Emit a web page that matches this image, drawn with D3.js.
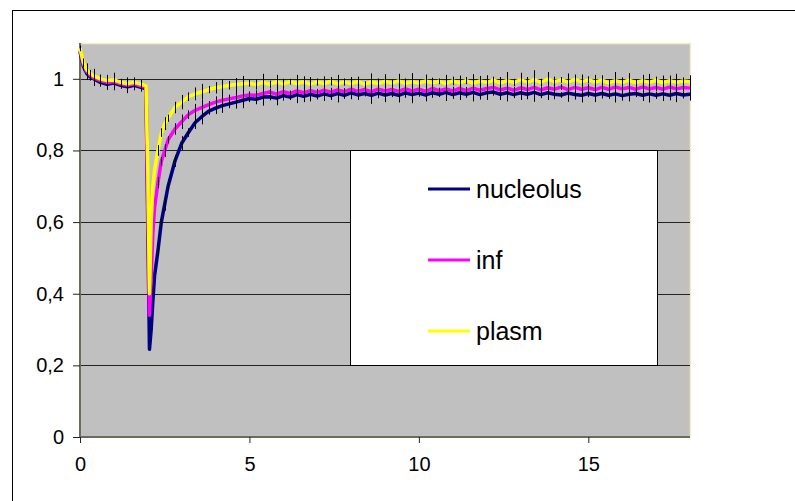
<!DOCTYPE html>
<html><head><meta charset="utf-8">
<script src="https://cdn.jsdelivr.net/npm/d3@7"></script>
<style>body{margin:0;background:#fff}svg{display:block;font-family:"Liberation Sans",Arial,sans-serif}</style>
</head><body><svg id="c" width="795" height="501"></svg>
<script>
const times = [0,0.1,0.2,0.3,0.4,0.6,0.8,1.0,1.2,1.4,1.6,1.8,1.95,2.0,2.05,2.1,2.15,2.2,2.3,2.4,2.5,2.6,
  2.8,3.0,3.2,3.4,3.6,3.8,4.0,4.2,4.4,4.6,4.8,5.0,
  5.2,5.4,5.6,5.8,6.0,6.2,6.4,6.6,6.8,7.0,
  7.2,7.4,7.6,7.8,8.0,8.2,8.4,8.6,8.8,9.0,
  9.2,9.4,9.6,9.8,10.0,10.2,10.4,10.6,10.8,11.0,
  11.2,11.4,11.6,11.8,12.0,12.2,12.4,12.6,12.8,13.0,
  13.2,13.4,13.6,13.8,14.0,14.2,14.4,14.6,14.8,15.0,
  15.2,15.4,15.6,15.8,16.0,16.2,16.4,16.6,16.8,17.0,
  17.2,17.4,17.6,17.8,18.0];
const nucleolus = [1.075,1.035,1.015,1.005,1.0,0.99,0.985,0.988,0.982,0.978,0.982,0.976,0.972,0.60,0.245,0.30,0.38,0.45,0.52,0.60,0.65,0.70,
  0.77,0.82,0.85,0.878,0.895,0.91,0.918,0.925,0.93,0.935,0.94,0.945,
  0.943,0.949,0.95,0.946,0.953,0.949,0.956,0.951,0.957,0.952,
  0.958,0.953,0.959,0.954,0.961,0.955,0.959,0.954,0.96,0.955,
  0.959,0.954,0.961,0.956,0.96,0.955,0.961,0.957,0.962,0.956,
  0.961,0.957,0.962,0.956,0.961,0.963,0.957,0.961,0.956,0.961,
  0.957,0.962,0.956,0.961,0.957,0.955,0.96,0.956,0.954,0.959,
  0.955,0.959,0.954,0.958,0.953,0.957,0.959,0.954,0.958,0.954,
  0.958,0.954,0.959,0.955,0.957];
const inf = [1.08,1.04,1.02,1.01,1.003,0.995,0.99,0.992,0.986,0.982,0.986,0.98,0.976,0.65,0.34,0.45,0.57,0.64,0.71,0.77,0.80,0.83,
  0.86,0.88,0.90,0.912,0.92,0.928,0.935,0.94,0.944,0.948,0.952,0.955,
  0.954,0.959,0.963,0.957,0.964,0.959,0.966,0.961,0.967,0.962,
  0.968,0.963,0.969,0.964,0.971,0.965,0.97,0.964,0.971,0.966,
  0.97,0.965,0.972,0.966,0.971,0.965,0.973,0.967,0.972,0.966,
  0.973,0.967,0.974,0.968,0.973,0.976,0.969,0.974,0.968,0.975,
  0.97,0.976,0.969,0.975,0.971,0.977,0.97,0.976,0.971,0.975,
  0.97,0.976,0.971,0.977,0.972,0.976,0.971,0.977,0.972,0.976,
  0.971,0.977,0.972,0.976,0.974];
const plasm = [1.085,1.045,1.025,1.015,1.008,1.0,0.995,0.997,0.99,0.986,0.99,0.985,0.98,0.75,0.40,0.60,0.70,0.745,0.80,0.85,0.875,0.89,
  0.92,0.935,0.95,0.958,0.964,0.97,0.975,0.978,0.982,0.984,0.986,0.988,
  0.984,0.99,0.985,0.991,0.986,0.992,0.987,0.991,0.985,0.991,
  0.987,0.993,0.986,0.991,0.987,0.992,0.985,0.991,0.987,0.993,
  0.988,0.994,0.987,0.992,0.988,0.994,0.989,0.993,0.987,0.994,
  0.989,0.995,0.988,0.994,0.99,0.996,0.989,0.995,0.99,0.997,
  0.991,0.998,0.99,0.999,0.992,0.997,0.991,0.998,0.992,0.997,
  0.991,0.996,0.989,0.995,0.99,0.996,0.989,0.995,0.99,0.996,
  0.989,0.995,0.99,0.994,0.992];
const errs = [0.008,0.012,0.018,0.01,0.02,0.012,0.016,0.02,0.01,0.018,0.014,0.012,null,null,null,null,null,null,0.015,0.012,0.018,0.01,
  0.016,0.02,0.012,0.018,0.022,0.01,0.016,0.02,0.012,0.018,0.022,0.01,
  0.014,0.024,0.01,0.02,0.014,0.008,0.024,0.016,0.02,0.01,
  0.02,0.012,0.025,0.01,0.018,0.014,0.008,0.024,0.014,0.02,
  0.01,0.02,0.014,0.024,0.01,0.018,0.014,0.008,0.024,0.012,
  0.02,0.01,0.025,0.014,0.02,0.01,0.016,0.024,0.01,0.02,
  0.014,0.026,0.01,0.02,0.014,0.008,0.024,0.014,0.02,0.01,
  0.02,0.014,0.01,0.024,0.014,0.02,0.01,0.016,0.024,0.01,
  0.02,0.014,0.024,0.01,0.018];
const seriesNames = ["nucleolus","inf","plasm"];
const seriesColors = ["#000080","#ff00ff","#ffff00"];
const yTicks = [0,0.2,0.4,0.6,0.8,1];
const xTicks = [0,5,10,15];

const svg = d3.select("#c");
const L=80, R=690, T=43, B=437;
const x = d3.scaleLinear().domain([0,18]).range([L,R]);
const y = d3.scaleLinear().domain([0,1.1]).range([B,T]);

svg.append("rect").attr("x",12.5).attr("y",10.5).attr("width",900).attr("height",600)
  .attr("fill","#fff").attr("stroke","#000").attr("stroke-width",1);
svg.append("rect").attr("x",L).attr("y",T).attr("width",R-L).attr("height",B-T).attr("fill","#c0c0c0");
svg.append("path").attr("d",`M${L},${T+0.5}H${R+0.5}V${B}`).attr("fill","none").attr("stroke","#f2edc4").attr("stroke-width",1.5);
svg.append("g").selectAll("line").data(yTicks.filter(d=>d>0)).join("line")
  .attr("x1",L).attr("x2",R).attr("y1",d=>Math.round(y(d))+0.5).attr("y2",d=>Math.round(y(d))+0.5)
  .attr("stroke","#222").attr("stroke-width",1);

const fmt = d => String(d).replace(".",",");
const yAxis = svg.append("g").attr("transform",`translate(${L},0)`)
  .call(d3.axisLeft(y).tickValues(yTicks).tickFormat(fmt).tickSize(7).tickPadding(9));
const xAxis = svg.append("g").attr("transform",`translate(0,${B})`)
  .call(d3.axisBottom(x).tickValues(xTicks).tickFormat(d3.format("d")).tickSize(6).tickPadding(14));
[yAxis,xAxis].forEach(a=>{
  a.select(".domain").attr("stroke","#6b6b5a").attr("stroke-width",2);
  a.selectAll(".tick line").attr("stroke","#222");
  a.selectAll(".tick text").attr("font-size",20).attr("fill","#000").attr("font-family","Liberation Sans, Arial, sans-serif");
});
yAxis.select(".domain").attr("d",`M0,${T}V${B}`);
xAxis.select(".domain").attr("d",`M${L},0H${R}`);

const data = [nucleolus, inf, plasm];
const line = d3.line().x((d,i)=>x(times[i])).y(d=>y(d));
data.forEach((vals,k)=>{
  svg.append("path").datum(vals).attr("d",line).attr("fill","none")
    .attr("stroke",seriesColors[k]).attr("stroke-width",3.5).attr("stroke-linejoin","round");
  svg.append("g").selectAll("line").data(vals.map((v,i)=>({v,e:errs[i],t:times[i]})).filter(d=>d.e!=null)).join("line")
    .attr("x1",d=>Math.round(x(d.t))+0.5).attr("x2",d=>Math.round(x(d.t))+0.5)
    .attr("y1",d=>y(d.v+d.e)).attr("y2",d=>y(d.v-d.e))
    .attr("stroke","#000").attr("stroke-width",1);
});

const lg = svg.append("g");
lg.append("rect").attr("x",350.5).attr("y",150.5).attr("width",307).attr("height",215)
  .attr("fill","#fff").attr("stroke","#000").attr("stroke-width",1);
const ly = [189,260,331];
seriesNames.forEach((n,k)=>{
  lg.append("line").attr("x1",428).attr("x2",470).attr("y1",ly[k]).attr("y2",ly[k])
    .attr("stroke",seriesColors[k]).attr("stroke-width",3);
  lg.append("text").attr("x",476).attr("y",ly[k]).attr("dy","0.35em").attr("font-size",25).text(n);
});
</script></body></html>
